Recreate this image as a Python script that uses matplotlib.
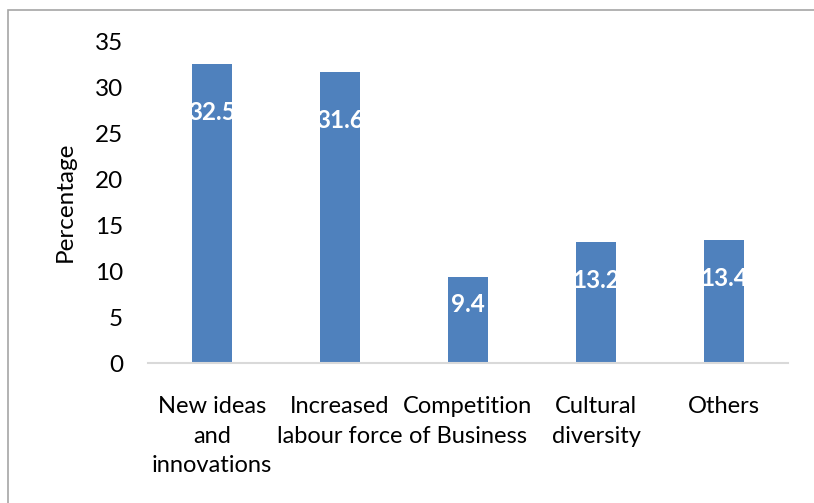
import matplotlib.pyplot as plt
from matplotlib.patches import Rectangle

categories = ["New ideas\nand\ninnovations", "Increased\nlabour force",
              "Competition\nof Business", "Cultural\ndiversity", "Others"]
values = [32.5, 31.6, 9.4, 13.2, 13.4]
# how far each value label sits below the bar top (points)
label_drop = [35, 35, 20, 28, 28]

plt.rcParams['font.family'] = ['Lato', 'DejaVu Sans']

fig = plt.figure(figsize=(8.14, 5.03), dpi=100)
ax = fig.add_axes([148 / 814, 1 - 363 / 503, 640 / 814, 322 / 503])

x = range(len(categories))
bars = ax.bar(x, values, width=0.3125, color="#4F81BD")

for b, v, d in zip(bars, values, label_drop):
    ax.annotate(f"{v}", (b.get_x() + b.get_width() / 2, v),
                xytext=(0, -d), textcoords="offset points",
                ha="center", va="center", color="white",
                fontsize=17.5, fontweight="bold")

ax.set_xlim(-0.5, len(categories) - 0.5)
ax.set_ylim(0, 35)
ax.set_yticks(range(0, 36, 5))
ax.set_xticks(list(x))
ax.set_xticklabels(categories, fontsize=17, linespacing=1.5)
ax.tick_params(axis="y", labelsize=17.5, length=0, pad=18)
ax.tick_params(axis="x", length=0, pad=24)
ax.set_ylabel("Percentage", fontsize=17.5, labelpad=14)

for s in ["top", "right", "left"]:
    ax.spines[s].set_visible(False)
ax.spines["bottom"].set_color("#D9D9D9")
ax.spines["bottom"].set_linewidth(1.5)

# outer chart border
fig.patches.append(Rectangle((8 / 814, -0.1), 1.2, 1 - 10 / 503 + 0.1,
                             transform=fig.transFigure, fill=False,
                             edgecolor="#A6A6A6", linewidth=1.2))

fig.savefig("out.png", dpi=100)
